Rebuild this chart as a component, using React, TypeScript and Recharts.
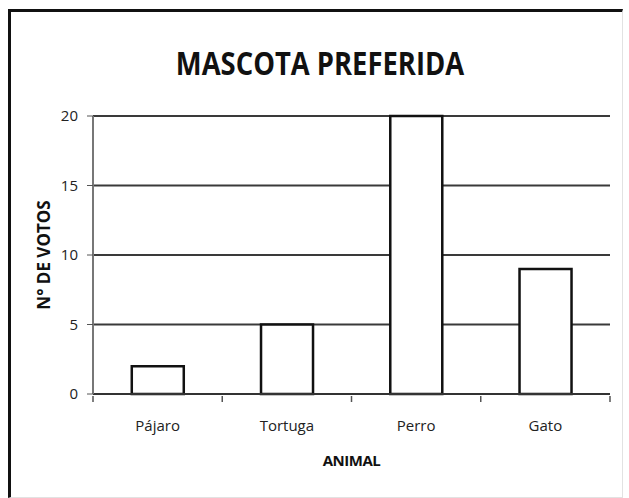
import React from 'react';
import { BarChart, Bar, XAxis, YAxis, CartesianGrid, Label } from 'recharts';

const animals = ['Pájaro', 'Tortuga', 'Perro', 'Gato'];
const votes = [2, 5, 20, 9];
const yTicks = [0, 5, 10, 15, 20];

const W = 629;
const H = 498;
const PLOT_LEFT = 93;
const PLOT_RIGHT = 610;
const BAND = (PLOT_RIGHT - PLOT_LEFT) / animals.length;
const FONT = '"Open Sans", sans-serif';

const data = animals.map((a, i) => ({ name: a, votos: votes[i] }));

// category tick: label at band centre, tick marks on band edges
const XTick = (props: any) => {
  const { x, y, payload, index } = props;
  const left = x - BAND / 2;
  return (
    <g>
      <line x1={left} y1={y - 6} x2={left} y2={y} stroke="#555" strokeWidth={1.5} />
      {index === animals.length - 1 && (
        <line x1={x + BAND / 2} y1={y - 6} x2={x + BAND / 2} y2={y} stroke="#555" strokeWidth={1.5} />
      )}
      <text x={x} y={y + 29} textAnchor="middle" fontSize={15} fill="#222" fontFamily={FONT}>
        {payload.value}
      </text>
    </g>
  );
};

export default function App() {
  return (
    <div style={{ position: 'absolute', left: 0, top: 0, width: W, height: H, overflow: 'hidden', background: '#fff' }}>
      <div
        style={{
          position: 'absolute', left: 8, top: 9, width: 611, height: 485,
          borderLeft: '3px solid #111', borderTop: '3px solid #111',
          borderRight: '1px solid #e2e2e2', borderBottom: '1px solid #e2e2e2',
        }}
      />
      <div
        style={{
          position: 'absolute', left: 0, width: 640, top: 40, textAlign: 'center',
          fontFamily: FONT, fontWeight: 'bold', fontSize: 33, color: '#111',
          transform: 'scaleX(0.83)', transformOrigin: '320px 0',
        }}
      >
        MASCOTA PREFERIDA
      </div>
      <div style={{ position: 'absolute', left: 0, top: 0 }}>
        <BarChart
          width={W}
          height={H}
          data={data}
          margin={{ top: 116, right: W - PLOT_RIGHT, bottom: 74, left: 0 }}
          barCategoryGap="30%"
        >
          <CartesianGrid vertical={false} stroke="#3a3a3a" strokeWidth={2} horizontalValues={[5, 10, 15, 20]} />
          <XAxis
            dataKey="name"
            height={30}
            tickLine={false}
            axisLine={{ stroke: '#333', strokeWidth: 2 }}
            tick={<XTick />}
            interval={0}
          >
            <Label value="ANIMAL" position="bottom" offset={31} fontFamily={FONT} fontWeight="bold" fontSize={15} fill="#111" letterSpacing={-0.5} />
          </XAxis>
          <YAxis
            width={PLOT_LEFT}
            domain={[0, 20]}
            ticks={yTicks}
            tickSize={6}
            tickMargin={9}
            tickLine={{ stroke: '#555' }}
            axisLine={{ stroke: '#777', strokeWidth: 2 }}
            tick={{ fontSize: 15, fill: '#222', fontFamily: FONT }}
          >
            <Label
              value="N° DE VOTOS"
              angle={-90}
              position="insideLeft"
              offset={44}
              style={{ textAnchor: 'middle' }}
              fontFamily={FONT}
              fontWeight="bold"
              fontSize={17}
              fill="#111"
            />
          </YAxis>
          <Bar dataKey="votos" fill="#fff" stroke="#111" strokeWidth={2.5} isAnimationActive={false} />
        </BarChart>
      </div>
    </div>
  );
}
